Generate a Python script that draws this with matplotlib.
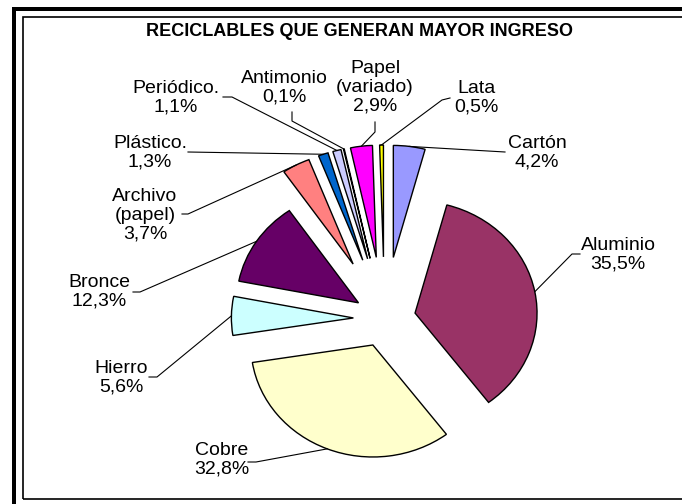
import numpy as np
import matplotlib
matplotlib.use("Agg")
import matplotlib.pyplot as plt
from matplotlib.lines import Line2D
from matplotlib.patches import Rectangle

# ---- data ----
categories = ["Cartón", "Aluminio", "Cobre", "Hierro", "Bronce", "Archivo\n(papel)",
              "Plástico.", "Periódico.", "Antimonio", "Papel\n(variado)", "Lata"]
values = [4.2, 35.5, 32.8, 5.6, 12.3, 3.7, 1.3, 1.1, 0.1, 2.9, 0.5]
colors = ["#9999FF", "#993366", "#FFFFCC", "#CCFFFF", "#660066", "#FF8080",
          "#0066CC", "#CCCCFF", "#000080", "#FF00FF", "#FFFF00"]
explode = [0.55, 0.255, 0.255, 0.255, 0.255, 0.55, 0.55, 0.55, 0.55, 0.55, 0.55]
title = "RECICLABLES QUE GENERAN MAYOR INGRESO"

# ---- layout (pixels) ----
W, H = 682, 504
CX, CY = 384.5, 318.5      # pie centre in pixels
RX, RY = 122.0, 112.0      # pixels per unit radius (image is stretched horizontally)

# label centres and leader-line start points (pixels)
label_pos = [(537, 153), (618, 255), (222, 460), (121, 378), (99, 292), (145, 215),
             (150, 153), (176, 98), (284, 88), (375, 87), (476, 98)]
leader_pts = [[(505, 152)], [(580, 254), (572, 254)], [(248, 462), (256, 462)],
              [(149, 377), (157, 377)], [(133, 292), (140, 292)], [(182, 214), (188, 214)],
              [(188, 152)], [(223, 97), (232, 97)], [(292, 112), (292, 121)],
              [(375, 122), (375, 132)], [(450, 98), (442, 100)]]

fig = plt.figure(figsize=(W / 100, H / 100), dpi=100)
ax = fig.add_axes([0, 0, 1, 1])

wedges, _ = ax.pie(values, colors=colors, explode=explode, startangle=90,
                   counterclock=False, radius=1.0,
                   wedgeprops=dict(edgecolor="black", linewidth=1.0))
ax.set_aspect("auto")
ax.set_xlim(-CX / RX, (W - CX) / RX)
ax.set_ylim((CY - H) / RY, CY / RY)
ax.axis("off")


def px2d(p):
    return ((p[0] - CX) / RX, (CY - p[1]) / RY)


font = dict(family=["Liberation Sans", "DejaVu Sans"])

# labels + leaders
for w, cat, v, lp, pts in zip(wedges, categories, values, label_pos, leader_pts):
    mid = np.deg2rad((w.theta1 + w.theta2) / 2)
    ox, oy = w.center
    anchor = (ox + np.cos(mid), oy + np.sin(mid))
    txt = cat + "\n" + f"{v:.1f}".replace(".", ",") + "%"
    x, y = px2d(lp)
    ax.text(x, y, txt, ha="center", va="center", fontsize=14, linespacing=1.12,
            color="black", **font)
    d = [px2d(p) for p in pts] + [anchor]
    ax.add_line(Line2D([q[0] for q in d], [q[1] for q in d], color="black", lw=0.8))

# title
fig.text(359 / W, 1 - 31 / H, title, ha="center", va="center", fontsize=13,
         fontweight="bold", **font)

# frame: thick outer lines (left, top) and thin inner rectangle
fig.add_artist(Rectangle((12 / W, 0), 4 / W, 1 - 7 / H, transform=fig.transFigure,
                         color="black", lw=0))
fig.add_artist(Rectangle((12 / W, 1 - 11 / H), 1, 4 / H, transform=fig.transFigure,
                         color="black", lw=0))
fig.add_artist(Rectangle((23 / W, 1 - 499 / H), 2, (499 - 17) / H, transform=fig.transFigure,
                         fill=False, edgecolor="black", lw=1.2))

fig.savefig("out.png", dpi=100)
